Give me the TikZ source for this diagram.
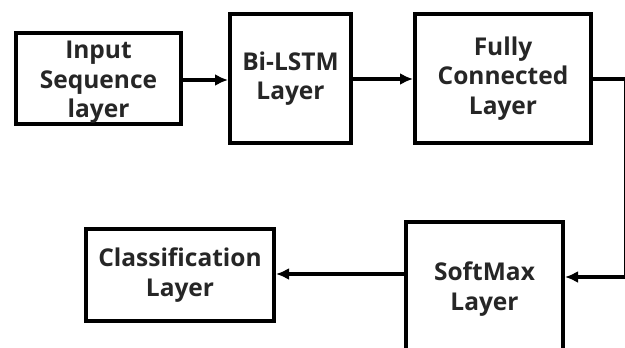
\documentclass[tikz,border=0pt]{standalone}
\usepackage{fontspec}
\setmainfont{Open Sans}
\usetikzlibrary{arrows.meta}
\definecolor{labelgray}{HTML}{262626}
\begin{document}
\begin{tikzpicture}[x=1pt,y=-1pt,
  labeltext/.style={align=center, inner sep=0pt,
    font=\bfseries\fontsize{24.5}{29.5}\selectfont, text=labelgray},
  box/.style={draw=black, line width=4pt, inner sep=0pt, labeltext},
  conn/.style={draw=black, line width=4pt, line join=miter,
    -{Latex[length=13pt,width=12pt]}}]
\useasboundingbox[fill=white] (0,0) rectangle (625,348);
% top row
\node[box, minimum width=165pt, minimum height=91pt] (inp) at (98.5,78.8) {};
\node[labeltext] (inptext) at ([yshift=-3.5pt]inp.center) {Input\\Sequence\\layer};
\node[box, minimum width=121pt, minimum height=129pt] (lstm) at (290.5,78.5) {Bi-LSTM\\Layer};
\node[box, minimum width=176pt, minimum height=129pt] (fc) at (503,78.5) {Fully\\Connected\\Layer};
% bottom row
\node[box, minimum width=157pt, minimum height=134pt] (sm) at (484.5,289) {SoftMax\\Layer};
\node[box, minimum width=188pt, minimum height=92pt] (cls) at (180,275) {Classification\\Layer};
% connectors
\coordinate (c1) at (625.5,79);
\coordinate (c2) at (625.5,277);
\draw[conn] (inp.east |- 0,80) -- (lstm.west |- 0,80);
\draw[conn] (lstm.east |- 0,79) -- (fc.west |- 0,79);
\draw[conn] (fc.east |- c1) -- (c1) -- (c2) -- (sm.east |- c2);
\draw[conn] (sm.west |- 0,274) -- (cls.east |- 0,274);
\end{tikzpicture}
\end{document}
